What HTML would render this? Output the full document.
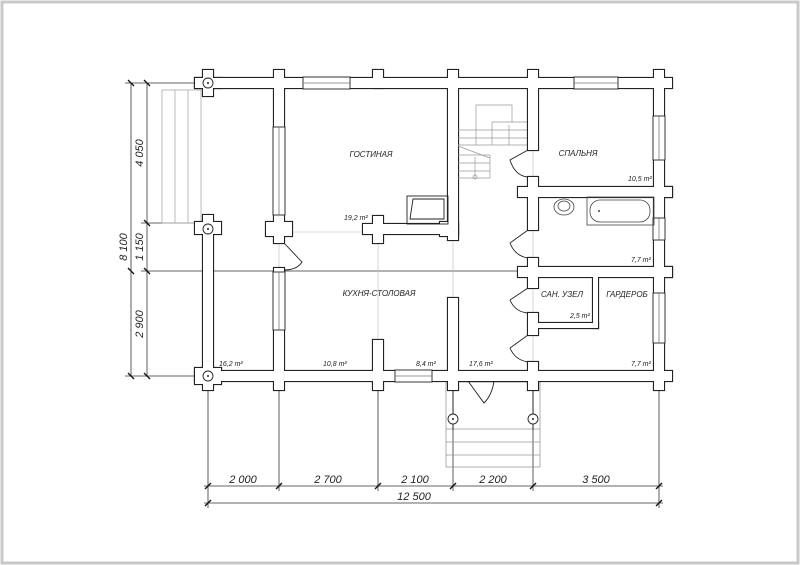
<!DOCTYPE html>
<html><head><meta charset="utf-8"><style>
html,body{margin:0;padding:0;background:#fff}
svg{display:block}
text{font-family:"Liberation Sans",sans-serif;font-style:italic;fill:#222}
</style></head><body>
<svg width="800" height="565" viewBox="0 0 800 565" xmlns="http://www.w3.org/2000/svg">
<rect x="2" y="2" width="796" height="561" fill="#fff" stroke="#c8c8c8" stroke-width="3"/>

<g stroke="#333" stroke-width="0.8" fill="none">
<line x1="131" y1="83" x2="131" y2="376"/>
<line x1="147" y1="83" x2="147" y2="376"/>
<line x1="125" y1="83" x2="200" y2="83"/>
<line x1="141" y1="223" x2="200" y2="223"/>
<line x1="141" y1="271" x2="518" y2="271"/>
<line x1="125" y1="376" x2="200" y2="376"/>
<line x1="208" y1="390" x2="208" y2="508"/>
<line x1="279" y1="390" x2="279" y2="491"/>
<line x1="378" y1="390" x2="378" y2="491"/>
<line x1="453" y1="390" x2="453" y2="491"/>
<line x1="533" y1="390" x2="533" y2="491"/>
<line x1="659" y1="390" x2="659" y2="508"/>
<line x1="204" y1="486" x2="663" y2="486"/>
<line x1="204" y1="503" x2="663" y2="503"/>
</g>
<g stroke="#111" stroke-width="1.3">
<line x1="128" y1="80" x2="134" y2="86"/><line x1="144" y1="80" x2="150" y2="86"/>
<line x1="144" y1="220" x2="150" y2="226"/><line x1="144" y1="268" x2="150" y2="274"/>
<line x1="128" y1="268" x2="134" y2="274"/>
<line x1="128" y1="373" x2="134" y2="379"/><line x1="144" y1="373" x2="150" y2="379"/>
<line x1="205" y1="489" x2="211" y2="483"/><line x1="276" y1="489" x2="282" y2="483"/>
<line x1="375" y1="489" x2="381" y2="483"/><line x1="450" y1="489" x2="456" y2="483"/>
<line x1="530" y1="489" x2="536" y2="483"/><line x1="656" y1="489" x2="662" y2="483"/>
<line x1="205" y1="506" x2="211" y2="500"/><line x1="656" y1="506" x2="662" y2="500"/>
</g>
<g font-size="11">
<text x="143" y="153" transform="rotate(-90 143 153)" text-anchor="middle">4 050</text>
<text x="143" y="247" transform="rotate(-90 143 247)" text-anchor="middle">1 150</text>
<text x="143" y="324" transform="rotate(-90 143 324)" text-anchor="middle">2 900</text>
<text x="127" y="247" transform="rotate(-90 127 247)" text-anchor="middle">8 100</text>
<text x="243" y="483" text-anchor="middle">2 000</text>
<text x="328" y="483" text-anchor="middle">2 700</text>
<text x="415" y="483" text-anchor="middle">2 100</text>
<text x="493" y="483" text-anchor="middle">2 200</text>
<text x="596" y="483" text-anchor="middle">3 500</text>
<text x="414" y="500" text-anchor="middle">12 500</text>
</g>

<g stroke="#bbb" stroke-width="0.6">
<line x1="292" y1="232" x2="363" y2="232"/>
<line x1="378" y1="243" x2="378" y2="340"/>
<line x1="453" y1="240" x2="453" y2="298"/>
<line x1="533" y1="150" x2="533" y2="362"/>
<line x1="279" y1="243" x2="279" y2="272"/>
</g>

<g stroke="#aaa" stroke-width="0.8" fill="none">
<rect x="162" y="90" width="39" height="133"/>
<line x1="175" y1="90" x2="175" y2="223"/><line x1="188" y1="90" x2="188" y2="223"/>
</g>

<g stroke="#999" stroke-width="0.8" fill="none">
<rect x="446" y="382" width="94" height="85"/>
<line x1="446" y1="429" x2="540" y2="429"/><line x1="446" y1="442" x2="540" y2="442"/><line x1="446" y1="455" x2="540" y2="455"/>
</g>
<g stroke="#222" stroke-width="0.9" fill="#fff">
<line x1="453" y1="381" x2="453" y2="430"/><line x1="533" y1="381" x2="533" y2="430"/>
<circle cx="453" cy="419" r="5"/><circle cx="533" cy="419" r="5"/>
</g>
<circle cx="453" cy="419" r="1" fill="#222"/><circle cx="533" cy="419" r="1" fill="#222"/>

<defs>
<g id="w">
<rect x="195" y="78" width="477" height="10"/>
<rect x="203" y="70" width="10" height="26"/><rect x="195" y="78" width="26" height="10"/>
<rect x="274" y="70" width="10" height="18"/><rect x="373" y="70" width="10" height="18"/>
<rect x="448" y="70" width="10" height="18"/><rect x="528" y="70" width="10" height="18"/>
<rect x="654" y="70" width="10" height="320"/>
<rect x="654" y="187" width="18" height="10"/><rect x="654" y="267" width="18" height="10"/>
<rect x="195" y="371" width="477" height="10"/>
<rect x="203" y="215" width="10" height="175"/><rect x="195" y="222" width="26" height="12"/>
<rect x="195" y="368" width="26" height="16"/>
<rect x="274" y="78" width="10" height="165"/><rect x="274" y="268" width="10" height="122"/>
<rect x="266" y="222" width="26" height="14"/>
<rect x="363" y="224" width="95" height="10"/><rect x="373" y="216" width="10" height="27"/>
<rect x="373" y="340" width="10" height="50"/>
<rect x="448" y="78" width="10" height="162"/><rect x="440" y="222" width="18" height="14"/>
<rect x="448" y="298" width="10" height="92"/>
<rect x="528" y="78" width="10" height="72"/><rect x="528" y="177" width="10" height="53"/>
<rect x="518" y="187" width="154" height="10"/>
<rect x="528" y="258" width="10" height="30"/><rect x="518" y="267" width="154" height="10"/>
<rect x="528" y="313" width="10" height="22"/><rect x="528" y="362" width="10" height="28"/>
<rect x="538" y="323" width="60" height="5"/><rect x="593" y="277" width="5" height="51"/>
</g>
</defs>
<use href="#w" fill="#222" stroke="#222" stroke-width="2.2"/>
<use href="#w" fill="#fff" stroke="none"/>

<g stroke="#222" stroke-width="0.9" fill="#fff">
<circle cx="208" cy="83" r="5"/><circle cx="208" cy="229" r="5"/><circle cx="208" cy="376" r="5"/>
</g>
<circle cx="208" cy="83" r="1" fill="#222"/><circle cx="208" cy="229" r="1" fill="#222"/><circle cx="208" cy="376" r="1" fill="#222"/>

<g fill="#fff" stroke="#222" stroke-width="0.9">
<rect x="303" y="77" width="47" height="12"/><rect x="574" y="77" width="44" height="12"/>
<rect x="395" y="370" width="37" height="12"/>
<rect x="273" y="127" width="12" height="88"/><rect x="273" y="272" width="12" height="58"/>
<rect x="653" y="116" width="12" height="44"/><rect x="653" y="218" width="12" height="22"/><rect x="653" y="293" width="12" height="50"/>
</g>
<g stroke="#777" stroke-width="0.8">
<line x1="303" y1="83" x2="350" y2="83"/><line x1="574" y1="83" x2="618" y2="83"/><line x1="395" y1="376" x2="432" y2="376"/>
<line x1="279" y1="127" x2="279" y2="215"/><line x1="279" y1="272" x2="279" y2="330"/>
<line x1="659" y1="116" x2="659" y2="160"/><line x1="659" y1="218" x2="659" y2="240"/><line x1="659" y1="293" x2="659" y2="343"/>
</g>

<g fill="none" stroke="#222" stroke-width="0.9">
<path d="M284 243 L302 262 Q297 270 284 270"/>
<path d="M528 150 L510 160 Q515 176 528 177"/>
<path d="M528 230 L510 243 Q515 256 528 258"/>
<path d="M528 288 L510 300 Q515 312 528 313"/>
<path d="M528 335 L510 348 Q515 360 528 362"/>
<path d="M468 381 L484 403 Q492 395 494 381"/>
</g>

<g fill="none" stroke="#222" stroke-width="0.9">
<rect x="407" y="196" width="41" height="28"/>
<path d="M413 199 L444 199 L444 219 L410 219 Z"/>
</g>

<g fill="none" stroke="#999" stroke-width="0.7">
<polyline points="476,145 476,105 512,105 512,122"/>
<polyline points="492,145 492,122 527,122"/>
<line x1="458" y1="130" x2="527" y2="130"/><line x1="458" y1="138" x2="527" y2="138"/>
<line x1="458" y1="145" x2="527" y2="145"/>
<line x1="458" y1="146" x2="490" y2="158"/>
<line x1="458" y1="155" x2="490" y2="155"/><line x1="458" y1="163" x2="490" y2="163"/>
<line x1="458" y1="171" x2="490" y2="171"/><line x1="458" y1="178" x2="490" y2="178"/>
<line x1="490" y1="155" x2="490" y2="178"/>
<line x1="475" y1="157" x2="475" y2="177"/><line x1="509" y1="125" x2="509" y2="145"/>
<circle cx="475" cy="177" r="2"/>
</g>

<g fill="none" stroke="#444" stroke-width="0.8">
<ellipse cx="564" cy="207" rx="10" ry="8"/><ellipse cx="564" cy="206" rx="6" ry="5"/>
<rect x="587" y="197" width="67" height="28"/>
<rect x="590" y="200" width="60" height="22" rx="10"/>
</g>
<circle cx="599" cy="211" r="1" fill="#444"/>

<g font-size="8">
<text x="371" y="157" text-anchor="middle">ГОСТИНАЯ</text>
<text x="578" y="156" text-anchor="middle">СПАЛЬНЯ</text>
<text x="379" y="296" text-anchor="middle">КУХНЯ-СТОЛОВАЯ</text>
<text x="562" y="297" text-anchor="middle">САН. УЗЕЛ</text>
<text x="627" y="297" text-anchor="middle">ГАРДЕРОБ</text>
</g>
<g font-size="7" font-style="normal">
<text x="344" y="220">19,2 m²</text>
<text x="628" y="181">10,5 m²</text>
<text x="631" y="262">7,7 m²</text>
<text x="570" y="318">2,5 m²</text>
<text x="219" y="366">16,2 m²</text>
<text x="323" y="366">10,8 m²</text>
<text x="416" y="366">8,4 m²</text>
<text x="469" y="366">17,6 m²</text>
<text x="631" y="366">7,7 m²</text>
</g>
</svg>
</body></html>
